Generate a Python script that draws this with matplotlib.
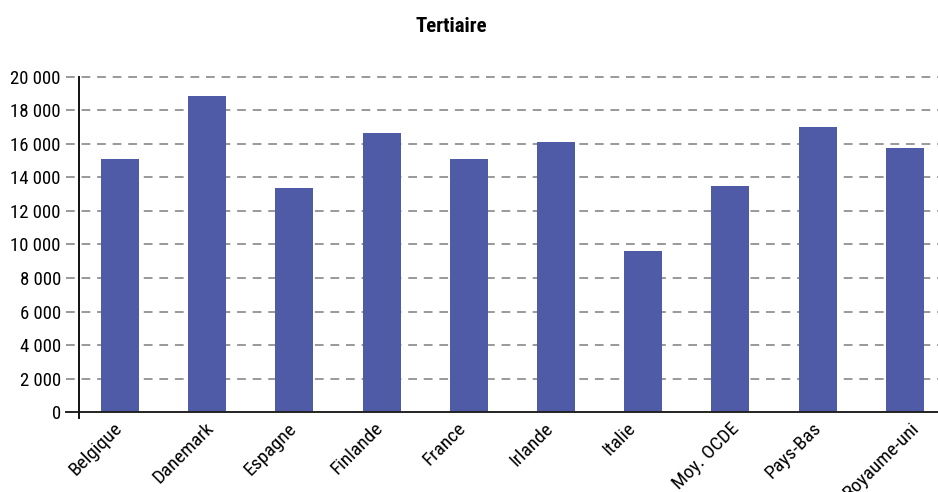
import numpy as np
from matplotlib import pyplot as plt
from matplotlib.transforms import ScaledTranslation

pays = ['Belgique', 'Danemark', 'Espagne', 'Finlande', 'France',
        'Irlande', 'Italie', 'Moy. OCDE', 'Pays-Bas', 'Royaume-uni']
valeurs = [15100, 18850, 13370, 16650, 15100, 16100, 9610, 13490, 17000, 15750]
yticks = [0, 2000, 4000, 6000, 8000, 10000, 12000, 14000, 16000, 18000, 20000]
ylabels = ['0', '2 000', '4 000', '6 000', '8 000', '10 000', '12 000',
           '14 000', '16 000', '18 000', '20 000']

# narrowest family that is installed goes first
plt.rcParams['font.family'] = ['Liberation Sans Narrow', 'DejaVu Sans Condensed',
                               'Roboto Condensed', 'Liberation Sans', 'DejaVu Sans']

fig = plt.figure(figsize=(9.38, 4.92), dpi=100)
ax = fig.add_axes([79/938, 1 - 412.3/492, 859/938, 335.6/492])

x = np.arange(len(pays))
ax.bar(x, valeurs, width=0.436, color='#4F5BA6', zorder=3)

# dashed grid, running a bit left of the axis
for t in yticks[1:]:
    ax.axhline(t, xmin=-0.0155, xmax=1, clip_on=False, color='#999999',
               lw=1.4, ls=(0, (4.5, 3.5)), zorder=1)
ax.axhline(0, xmin=-0.0155, xmax=1, clip_on=False, color='#222222', lw=1.4, zorder=4)
ax.plot([0, 0], [-0.016, 1], transform=ax.transAxes, clip_on=False,
        color='#111111', lw=1.4, zorder=4)

ax.set_xlim(-0.47, 9.38)
ax.set_ylim(0, 20000)
for s in ax.spines.values():
    s.set_visible(False)

ax.set_yticks(yticks)
ax.set_yticklabels(ylabels, fontsize=13.5)
ax.tick_params(axis='y', length=0, pad=13)
ax.set_xticks(x)
ax.set_xticklabels(pays, fontsize=14, rotation=45, ha='center')
ax.tick_params(axis='x', length=0, pad=5)
shift = ScaledTranslation(-0.24, 0, fig.dpi_scale_trans)
for lab in ax.get_xticklabels():
    lab.set_transform(lab.get_transform() + shift)

fig.text(451/938, 1 - 26/492, 'Tertiaire', ha='center', va='center',
         fontsize=15, fontweight='bold')

plt.savefig('out.png', dpi=100)
